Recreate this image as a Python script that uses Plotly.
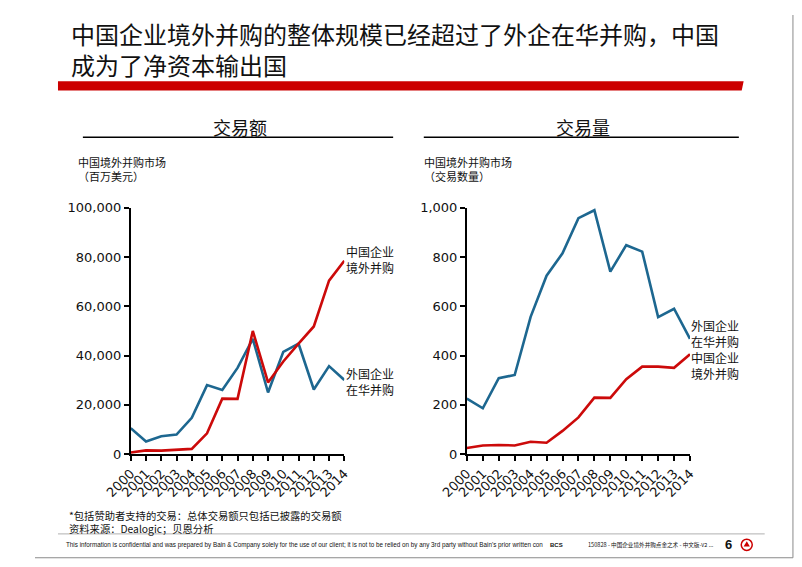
import plotly.graph_objects as go

years = list(range(2000, 2015))
# 交易额 (百万美元)
value_foreign = [10500, 5100, 7200, 7900, 14700, 28000, 26000, 35000, 46800, 25000, 41500, 44800, 26200, 35700, 30100]
value_china = [650, 1500, 1400, 1700, 2100, 8400, 22500, 22400, 50000, 29100, 37600, 44800, 51800, 70400, 78500]
# 交易量 (交易数量)
count_foreign = [225, 186, 308, 321, 557, 724, 815, 958, 990, 741, 848, 822, 556, 590, 468]
count_china = [25, 35, 37, 35, 50, 46, 94, 149, 229, 228, 304, 355, 355, 350, 405]

label_china = "中国企业<br>境外并购"
label_foreign = "外国企业<br>在华并购"

W, H = 802, 567
OFF = 8  # page body margin: figure is drawn 8px from the window's top-left corner
def px(x):
    return (x - OFF) / W
def py(y):
    return 1 - (y - OFF) / H

BLUE = "#1d6790"
RED = "#cc0a0a"
CJK = "Noto Sans CJK SC"
NUM = "DejaVu Sans"

fig = go.Figure()
fig.add_trace(go.Scatter(x=years, y=value_foreign, mode="lines", line=dict(color=BLUE, width=2.6), xaxis="x", yaxis="y"))
fig.add_trace(go.Scatter(x=years, y=value_china, mode="lines", line=dict(color=RED, width=2.6), xaxis="x", yaxis="y"))
fig.add_trace(go.Scatter(x=years, y=count_foreign, mode="lines", line=dict(color=BLUE, width=2.6), xaxis="x2", yaxis="y2"))
fig.add_trace(go.Scatter(x=years, y=count_china, mode="lines", line=dict(color=RED, width=2.6), xaxis="x2", yaxis="y2"))

axis_common = dict(showline=True, linecolor="black", linewidth=1.8, ticks="outside", ticklen=5,
                   tickwidth=1.5, tickcolor="black", showgrid=False, zeroline=False, fixedrange=True,
                   tickfont=dict(family=NUM, size=13, color="#111"))

fig.update_layout(
    width=W, height=H, autosize=False,
    margin=dict(l=0, r=0, t=0, b=0),
    paper_bgcolor="white", plot_bgcolor="white",
    showlegend=False,
    xaxis=dict(domain=[px(108), px(331)], range=[2000, 2014], tickvals=years, tickangle=-45,
               anchor="y", **axis_common),
    yaxis=dict(domain=[py(459), py(206)], range=[0, 100000], tickvals=[0, 20000, 40000, 60000, 80000, 100000],
               tickformat=",", anchor="x", **axis_common),
    xaxis2=dict(domain=[px(459), px(692)], range=[2000, 2014], tickvals=years, tickangle=-45,
                anchor="y2", **axis_common),
    yaxis2=dict(domain=[py(459), py(206)], range=[0, 1000], tickvals=[0, 200, 400, 600, 800, 1000],
                tickformat=",", anchor="x2", **axis_common),
)

shapes = []
# outer frame (right and bottom edges of the slide)
shapes.append(dict(type="line", xref="paper", yref="paper", x0=px(799.5), x1=px(799.5), y0=py(565.5), y1=py(8),
                   line=dict(color="#8a8a8a", width=1)))
shapes.append(dict(type="line", xref="paper", yref="paper", x0=px(8), x1=px(799.5), y0=py(565.5), y1=py(565.5),
                   line=dict(color="#8a8a8a", width=1)))
# red title bar
shapes.append(dict(type="path", xref="paper", yref="paper",
                   path=f"M {px(32)},{py(76)} L {px(748)},{py(76)} L {px(746)},{py(85.5)} L {px(32)},{py(85.5)} Z",
                   fillcolor="#cc0000", line=dict(width=0)))
# section underlines
shapes.append(dict(type="line", xref="paper", yref="paper", x0=px(58), x1=px(382), y0=py(133.5), y1=py(133.5),
                   line=dict(color="black", width=1.5)))
shapes.append(dict(type="line", xref="paper", yref="paper", x0=px(414), x1=px(743), y0=py(133.5), y1=py(133.5),
                   line=dict(color="black", width=1.5)))
# footer separator
shapes.append(dict(type="line", xref="paper", yref="paper", x0=px(32), x1=px(770), y0=py(541), y1=py(541),
                   line=dict(color="#b0b0b0", width=1)))
# logo
shapes.append(dict(type="circle", xref="paper", yref="paper", x0=px(745.5), x1=px(757), y0=py(558), y1=py(546.5),
                   line=dict(color="#cc0000", width=1.5)))
shapes.append(dict(type="path", xref="paper", yref="paper",
                   path=f"M {px(748)},{py(554)} L {px(751.3)},{py(548.5)} L {px(754.5)},{py(554)} Z",
                   fillcolor="#cc0000", line=dict(width=0)))
fig.update_layout(shapes=shapes)

def ann(text, x, y, size, family=CJK, color="#111", xanchor="left", yanchor="middle", bold=False):
    if bold:
        text = f"<b>{text}</b>"
    return dict(text=text, x=px(x), y=py(y), xref="paper", yref="paper", xanchor=xanchor, yanchor=yanchor,
                showarrow=False, align="left", font=dict(family=family, size=size, color=color),
                borderpad=0, borderwidth=0)

anns = [
    ann("中国企业境外并购的整体规模已经超过了外企在华并购，中国<br>成为了净资本输出国", 46, 43, 24),
    ann("交易额", 222, 123, 18, xanchor="center"),
    ann("交易量", 580, 123, 18, xanchor="center"),
    ann("中国境外并购市场<br>（百万美元）", 53, 166, 11),
    ann("中国境外并购市场<br>（交易数量）", 414, 166, 11),
    ann(label_china, 333, 259, 12),
    ann(label_foreign, 333, 384, 12),
    ann(label_foreign, 693, 335, 12),
    ann(label_china, 693, 368, 12),
    ann("*包括赞助者支持的交易：总体交易额只包括已披露的交易额<br>资料来源：Dealogic；贝恩分析", 44, 528.5, 10.3),
    ann("This information is confidential and was prepared by Bain &amp; Company solely for the use of our client; "
        "it is not to be relied on by any 3rd party without Bain's prior written con",
        40, 552, 6.3, family="Liberation Sans"),
    ann("BCS", 546, 552, 6, family="Liberation Sans", bold=True),
    ann("150828 - 中国企业境外并购点金之术 - 中文版-v2 ...", 585, 552, 5.6),
    ann("6", 729, 552, 13, family="Liberation Sans", bold=True),
]
fig.update_layout(annotations=anns)

fig.write_html("out.html")
